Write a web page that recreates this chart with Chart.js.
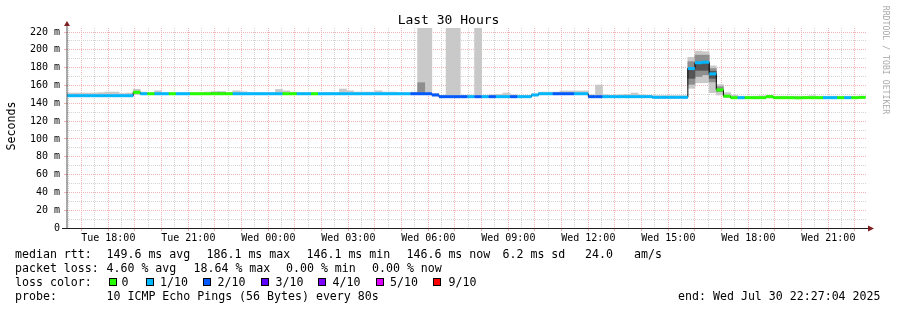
<!DOCTYPE html>
<html lang="en">
<head>
<meta charset="UTF-8">
<title>Last 30 Hours</title>
<script src="https://cdn.jsdelivr.net/npm/chart.js"></script>
<style>
  body { margin: 0; background: #fff; }
  #wrap { position: relative; width: 897px; height: 310px; overflow: hidden;
          font-family: "DejaVu Sans Mono", monospace; color: #000; background: #fff; }
  #plot { position: absolute; left: 0; top: 0; }
  .t { position: absolute; white-space: pre; font-size: 11.6px; line-height: 14px; }
  .box { position: absolute; top: 278px; width: 8px; height: 8px; border: 1px solid #000; box-sizing: border-box; }
  #title { position: absolute; left: 0; top: 12px; width: 897px; text-align: center; font-size: 13px; line-height: 16px; }
  #ylab { position: absolute; left: -39px; top: 119px; width: 100px; height: 14px; line-height: 14px;
          text-align: center; font-size: 11.6px; transform: rotate(-90deg); }
  #credit { position: absolute; left: 816px; top: 55px; width: 140px; height: 10px; line-height: 10px;
            text-align: center; font-size: 8.2px; color: #aaa; transform: rotate(90deg); }
</style>
</head>
<body>
<div id="wrap">
  <canvas id="plot" width="897" height="250"></canvas>
  <div id="title">Last 30 Hours</div>
  <div id="ylab">Seconds</div>
  <div id="credit">RRDTOOL / TOBI OETIKER</div>

  <!-- legend / stats -->
  <span class="t" style="top:247px;left:15px">median rtt:</span>
  <span class="t" style="top:247px;left:106.5px">149.6 ms avg</span>
  <span class="t" style="top:247px;left:206.5px">186.1 ms max</span>
  <span class="t" style="top:247px;left:306.5px">146.1 ms min</span>
  <span class="t" style="top:247px;left:406.5px">146.6 ms now</span>
  <span class="t" style="top:247px;left:502.5px">6.2 ms sd</span>
  <span class="t" style="top:247px;left:585px">24.0</span>
  <span class="t" style="top:247px;left:634px">am/s</span>

  <span class="t" style="top:261px;left:15px">packet loss:</span>
  <span class="t" style="top:261px;left:106.5px">4.60 % avg</span>
  <span class="t" style="top:261px;left:193.5px">18.64 % max</span>
  <span class="t" style="top:261px;left:286px">0.00 % min</span>
  <span class="t" style="top:261px;left:372px">0.00 % now</span>

  <span class="t" style="top:275px;left:15px">loss color:</span>
  <div id="lossKeys"></div>

  <span class="t" style="top:289px;left:15px">probe:</span>
  <span class="t" style="top:289px;left:106.5px">10 ICMP Echo Pings (56 Bytes) every 80s</span>
  <span class="t" style="top:289px;right:16.5px">end: Wed Jul 30 22:27:04 2025</span>
</div>

<script>
// time axis in hours since Tue 00:00
const startHour = 16 + 27 / 60 + 4 / 3600;   // Tue 16:27:04
const endHour = startHour + 30;               // Wed 22:27:04
const bucketHours = 16 / 60;                  // 16 minute consolidation
const firstBucketMid = 16 + 24 / 60;          // first bucket 16:16-16:32

const labelHours = [18, 21, 24, 27, 30, 33, 36, 39, 42, 45];
const timeLabels = ['Tue 18:00', 'Tue 21:00', 'Wed 00:00', 'Wed 03:00', 'Wed 06:00',
                    'Wed 09:00', 'Wed 12:00', 'Wed 15:00', 'Wed 18:00', 'Wed 21:00'];
const yTicks = [0, 20, 40, 60, 80, 100, 120, 140, 160, 180, 200, 220];
const yMinorTicks = [0, 10, 20, 30, 40, 50, 60, 70, 80, 90, 100, 110, 120, 130, 140, 150,
                     160, 170, 180, 190, 200, 210, 220];

// median rtt per bucket (ms)
const median = [
  148.5,148.5,148.5,148.5,148.5,148.5,148.5,148.5,148.5,148.5,
  152.3,150.7,150.7,150.7,150.7,150.7,150.7,150.7,150.7,150.7,
  150.7,150.7,150.7,150.7,150.7,150.7,150.7,150.7,150.7,150.7,
  150.7,150.7,150.7,150.7,150.7,150.7,150.7,150.7,150.7,150.7,
  150.7,150.7,150.7,150.7,150.7,150.7,150.7,150.7,150.7,150.7,
  150.7,150.7,149.3,147.4,147.4,147.4,147.4,147.4,147.4,147.4,
  147.4,147.4,147.4,147.4,147.4,147.4,149.3,150.7,150.7,150.7,
  150.7,150.7,150.7,150.7,147.4,147.4,147.4,147.4,147.4,147.4,
  147.4,147.4,147.4,146.7,146.7,146.7,146.7,146.7,179.0,185.5,
  186.1,173.0,155.0,148.0,146.3,146.3,146.3,146.3,146.3,147.5,
  146.3,146.3,146.3,146.1,146.3,146.3,146.3,146.3,146.3,146.3,
  146.3,146.3,146.6
];

// lost pings (of 10) per bucket -> loss colour
const loss = [
  1,1,1,1,1,1,1,1,1,1,
  0,1,0,1,1,0,1,1,0,0,
  0,0,0,0,1,1,1,1,1,1,
  1,0,0,1,1,0,1,1,1,1,
  1,1,1,1,1,1,1,1,1,2,
  2,2,2,2,2,2,2,1,2,1,
  2,1,1,2,1,1,1,1,1,2,
  2,2,1,1,2,2,1,1,1,1,
  1,1,1,1,1,1,1,1,1,1,
  1,1,0,0,0,1,0,0,0,0,
  0,0,0,0,0,0,0,1,1,0,
  1,0,0
];

// smoke: spread of the pings per bucket (ms)
const smokeLo = [
  147.5,147.5,147.5,147.5,147.5,147.5,147.5,147.5,147.5,147.5,
  150,150,150,150,150,150,150,150,150,150,
  150,150,150,150,150,150,150,150,150,150,
  150,150,150,150,150,150,150,150,150,150,
  150,150,150,150,150,150,150,150,150,150,
  150,150,148.5,146.8,146.8,146.8,146.8,146.8,146.8,146.8,
  146.8,146.8,146.8,146.8,146.8,146.8,148.5,150,150,150,
  150,150,150,150,146.8,147,146.8,146.8,146.8,146.8,
  146.8,146.8,146.8,146,146,146,146,146,156.8,163,
  163,151.9,149.3,146.3,145.8,145.8,145.8,145.8,145.8,145.8,
  145.8,145.8,145.8,145.8,145.8,145.8,145.8,145.8,145.8,145.8,
  145.8,145.8,145.8
];
const smokeHi = [
  151.5,151.5,151.5,151.5,151.5,152.0,152.6,152.6,151.0,151.5,
  155.7,152.6,152.0,154.0,152.0,152.0,152.0,152.0,152.0,152.0,
  152.6,152.6,152.6,152.0,154.0,153.0,152.0,152.0,152.0,152.0,
  155.5,154.0,152.6,152.0,152.0,152.0,152.0,152.0,152.0,156.0,
  154.0,152.6,152.6,152.6,154.0,152.6,152.6,152.0,151.5,152.6,
  240,240,151.0,149.0,240,240,149.0,149.0,240,149.0,
  149.5,150.0,151.5,149.5,149.0,149.0,150.5,152.6,152.6,152.6,
  153.8,153.8,153.8,153.8,149.5,160.5,149.5,149.0,149.5,150.0,
  151.5,149.5,149.0,148.5,148.5,148.5,148.5,148.5,191.6,198.6,
  197.9,182.0,161.0,152.0,149.0,148.0,148.0,148.0,148.5,148.5,
  148.0,148.0,148.0,148.0,148.0,148.5,148.0,148.0,148.0,148.0,
  148.0,148.0,148.0
];

// denser smoke layers, only where visible
const midBucket = [21, 22, 50, 88, 89, 90, 91, 92];
const midLo = [151.0, 151.0, 150.0, 161.3, 170.0, 172.0, 164.0, 153.0];
const midHi = [152.6, 152.6, 163.1, 186.7, 194.0, 194.0, 179.0, 158.6];
const innerBucket = [88, 89, 90, 91];
const innerLo = [168.0, 177.0, 177.0, 168.0];
const innerHi = [179.0, 185.0, 185.0, 176.0];

const lossNames = ['0', '1/10', '2/10', '3/10', '4/10', '5/10', '9/10'];
const lossColors = ['#26ff00', '#00b8ff', '#0059ff', '#5e00ff', '#7e00ff', '#dd00ff', '#ff0000'];

// legend swatches
const keyBoxX = [109, 146, 203, 260.5, 318, 376, 433];
const keyTextX = [121.5, 160, 217.5, 275.5, 332.5, 390, 448.5];
const keys = document.getElementById('lossKeys');
lossNames.forEach((name, i) => {
  keys.insertAdjacentHTML('beforeend',
    `<div class="box" style="left:${keyBoxX[i]}px;background:${lossColors[i]}"></div>` +
    `<span class="t" style="top:275px;left:${keyTextX[i]}px">${name}</span>`);
});

const bucketX = median.map((_, k) => firstBucketMid + k * bucketHours);
const majorHours = [];
for (let h = 17; h <= 46; h++) majorHours.push(h);
const minorHours = [];
for (let h = 16.5; h <= 46; h += 0.5) minorHours.push(h);

const majorGrid = '#f2b4b4';
const minorGrid = '#d4d4d4';

// axis lines with arrows, rrdtool style
const axisArrows = {
  id: 'axisArrows',
  afterDatasetsDraw(chart) {
    const {ctx, chartArea: a} = chart;
    ctx.save();
    ctx.lineWidth = 1;
    ctx.strokeStyle = '#555';
    ctx.beginPath();
    ctx.moveTo(a.left, a.bottom + 1);
    ctx.lineTo(a.left, a.top - 3);
    ctx.stroke();
    ctx.strokeStyle = '#1f1f1f';
    ctx.beginPath();
    ctx.moveTo(a.left - 5, a.bottom + 0.5);
    ctx.lineTo(a.right + 2, a.bottom + 0.5);
    ctx.stroke();
    ctx.fillStyle = '#801f1f';
    ctx.beginPath();
    ctx.moveTo(a.left - 3, a.top - 2);
    ctx.lineTo(a.left + 3, a.top - 2);
    ctx.lineTo(a.left, a.top - 7);
    ctx.closePath();
    ctx.fill();
    ctx.beginPath();
    ctx.moveTo(a.right + 1, a.bottom - 2.5);
    ctx.lineTo(a.right + 1, a.bottom + 3.5);
    ctx.lineTo(a.right + 7, a.bottom + 0.5);
    ctx.closePath();
    ctx.fill();
    ctx.restore();
  }
};

Chart.defaults.font.family = '"DejaVu Sans Mono", monospace';
Chart.defaults.color = '#000';

const smokeBar = (order, color, xs, lo, hi) => ({
  type: 'bar',
  order: order,
  data: xs.map((x, i) => ({x: x, y: [lo[i], hi[i]]})),
  backgroundColor: color,
  borderWidth: 0,
  grouped: false,
  barPercentage: 1,
  categoryPercentage: 1
});

new Chart(document.getElementById('plot'), {
  data: {
    datasets: [
      {
        type: 'line',
        order: 0,
        data: bucketX.map((x, k) => ({x: x, y: median[k]})),
        showLine: false,
        pointStyle: 'line',
        pointRadius: ctx => {
          const s = ctx.chart.scales.x;
          return Math.abs(s.getPixelForValue(startHour + bucketHours) - s.getPixelForValue(startHour)) / 2;
        },
        pointBorderWidth: 3,
        pointBorderColor: loss.map(l => lossColors[l])
      },
      {
        type: 'line',
        order: 1,
        data: bucketX.map((x, k) => ({x: x, y: median[k]})),
        stepped: 'middle',
        borderColor: '#000',
        borderWidth: 1,
        pointRadius: 0
      },
      smokeBar(2, '#555555', innerBucket.map(k => bucketX[k]), innerLo, innerHi),
      smokeBar(3, '#8e8e8e', midBucket.map(k => bucketX[k]), midLo, midHi),
      smokeBar(4, '#c9c9c9', bucketX, smokeLo, smokeHi)
    ]
  },
  options: {
    responsive: false,
    animation: false,
    events: [],
    layout: { padding: { left: 0, right: 30, top: 28, bottom: 0 } },
    plugins: { legend: { display: false }, tooltip: { enabled: false } },
    scales: {
      x2: {
        type: 'linear', position: 'bottom', min: startHour, max: endHour, z: -1, offset: false,
        afterBuildTicks: s => { s.ticks = minorHours.map(v => ({value: v})); },
        afterFit: s => { s.height = 0; },
        ticks: { display: false },
        grid: { color: minorGrid, drawTicks: false, offset: false },
        border: { display: false, dash: [1, 1] }
      },
      x: {
        type: 'linear', position: 'bottom', min: startHour, max: endHour, offset: false,
        afterBuildTicks: s => { s.ticks = majorHours.map(v => ({value: v})); },
        afterFit: s => { s.height = 22; },
        ticks: {
          autoSkip: false, maxRotation: 0, minRotation: 0, padding: 1,
          font: { size: 10 },
          callback: v => {
            const i = labelHours.indexOf(v);
            return i >= 0 ? timeLabels[i] : '';
          }
        },
        grid: { color: majorGrid, tickLength: 3, offset: false },
        border: { display: false, dash: [1, 1] }
      },
      y2: {
        type: 'linear', position: 'left', min: 0, max: 224.5, z: -1,
        afterBuildTicks: s => { s.ticks = yMinorTicks.map(v => ({value: v})); },
        afterFit: s => { s.width = 0; },
        ticks: { display: false },
        grid: { color: minorGrid, drawTicks: false },
        border: { display: false, dash: [1, 1] }
      },
      y: {
        type: 'linear', position: 'left', min: 0, max: 224.5,
        afterBuildTicks: s => { s.ticks = yTicks.map(v => ({value: v})); },
        afterFit: s => { s.width = 67; },
        ticks: {
          autoSkip: false, padding: 4, font: { size: 10 },
          callback: v => v === 0 ? '0' : v + ' m'
        },
        grid: { color: majorGrid, tickLength: 3 },
        border: { display: false, dash: [1, 1] }
      }
    }
  },
  plugins: [axisArrows]
});
</script>
</body>
</html>
